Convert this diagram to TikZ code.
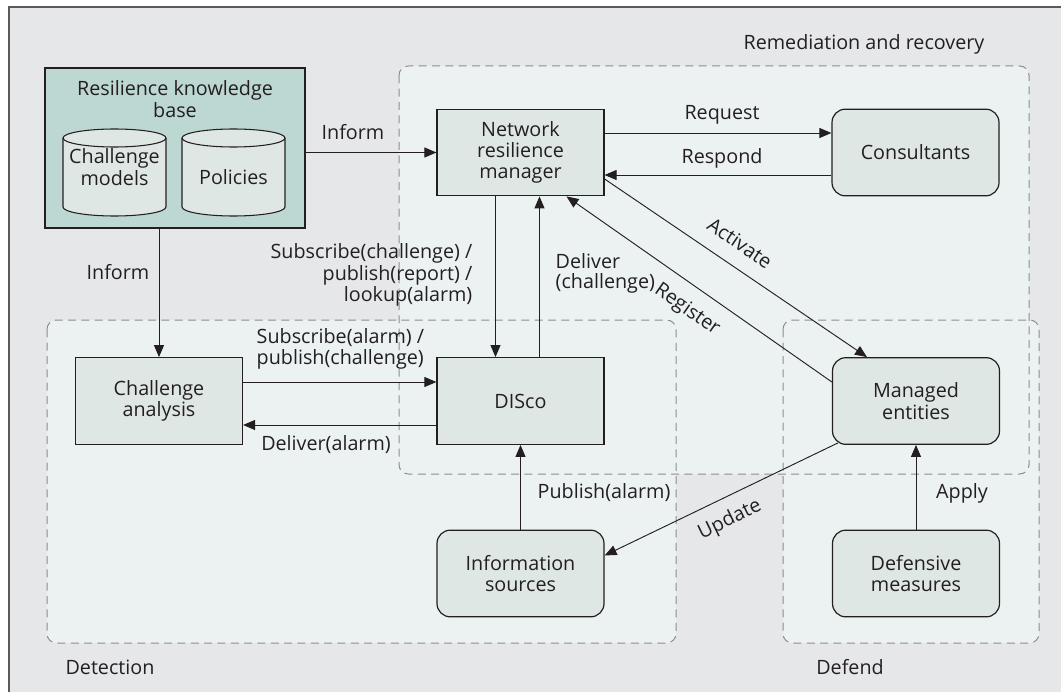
\documentclass[tikz,border=0pt]{standalone}
\usepackage{fontspec}
\setmainfont{Open Sans}
\usetikzlibrary{arrows.meta,calc}
\definecolor{ink}{HTML}{231F20}
\definecolor{bggray}{HTML}{E6E7E9}
\definecolor{framegray}{HTML}{5A5A5C}
\definecolor{zonefill}{HTML}{ECF2F2}
\definecolor{dashgray}{HTML}{8C8C8E}
\definecolor{boxfill}{HTML}{DFE7E4}
\definecolor{kbfill}{HTML}{BDD7D3}
\tikzset{
  blockbox/.style={draw=ink, fill=boxfill, line width=0.9pt, minimum width=125.25pt,
    minimum height=65pt, align=center, inner sep=0pt},
  roundbox/.style={blockbox, rounded corners=10pt},
  zoneline/.style={draw=dashgray, line width=0.75pt, dash pattern=on 6pt off 4pt, rounded corners=7pt},
  arr/.style={draw=ink, line width=0.7pt, -{Triangle[length=9pt,width=7.5pt]}},
}
\begin{document}
\begin{tikzpicture}[x=0.75pt,y=0.75pt,yscale=-1,xscale=1,
    every node/.style={font=\fontsize{14.8}{16}\selectfont, text=ink}]
    \useasboundingbox (0,0) rectangle (1061,692);
    % frame
    \fill[bggray] (9,7) rectangle (1070,700);
    \draw[framegray, line width=0.9pt] (9,700) -- (9,7) -- (1070,7);
    % zones
    \fill[zonefill, rounded corners=7pt] (399,66) rectangle (1029,474);
    \fill[zonefill, rounded corners=7pt] (47,320) rectangle (676,643);
    \fill[zonefill, rounded corners=7pt] (783,320) rectangle (1039,643);
    \draw[zoneline] (399,66) rectangle (1029,474);
    \draw[zoneline] (47,320) rectangle (676,643);
    \draw[zoneline] (783,320) rectangle (1039,643);
    \node (tRemed) at (864,44) {Remediation and recovery};
    \node (tDetect) at (110,667) {Detection};
    \node (tDefend) at (850,667) {Defend};
    % knowledge base
    \node[draw=ink, fill=kbfill, line width=0.9pt, minimum width=195pt, minimum height=120pt, inner sep=0pt] (kb) at (175,148) {};
    \node[align=center] (tKb) at (175,99) {Resilience knowledge\\base};
    \filldraw[draw=ink, fill=boxfill, line width=0.8pt] (63,138) -- (63,207) arc(180:0:51.5 and 9) -- (166,138) arc(0:-180:51.5 and 9) -- cycle;
    \draw[ink, line width=0.8pt] (63,138) arc(180:0:51.5 and 9);
    \filldraw[draw=ink, fill=boxfill, line width=0.8pt] (182,138) -- (182,207) arc(180:0:51.5 and 9) -- (285,138) arc(0:-180:51.5 and 9) -- cycle;
    \draw[ink, line width=0.8pt] (182,138) arc(180:0:51.5 and 9);
    \node[align=center] (tModels) at (114.5,167) {Challenge\\models};
    \node (tPolicies) at (233.5,177) {Policies};
    % boxes
    \node[blockbox] (nrm) at (520.5,152.5) {Network\\resilience\\manager};
    \node[roundbox] (cons) at (915.5,152.5) {Consultants};
    \node[blockbox] (ca) at (159,401) {Challenge\\analysis};
    \node[blockbox] (disco) at (520.5,401) {DISco};
    \node[roundbox] (info) at (520.5,573.5) {Information\\sources};
    \node[roundbox] (mgd) at (916,401) {Managed\\entities};
    \node[roundbox] (defm) at (916,573.5) {Defensive\\measures};
    % connectors
    \draw[arr] (kb.east |- nrm.west) -- (nrm.west);
    \draw[arr] (kb.south -| ca.north) -- (ca.north);
    \draw[arr] ($(nrm.east)+(0,-19.5)$) -- ($(cons.west)+(0,-19.5)$);
    \draw[arr] ($(cons.west)+(0,22.5)$) -- ($(nrm.east)+(0,22.5)$);
    \draw[arr] ($(nrm.south)+(-25,0)$) -- ($(disco.north)+(-25,0)$);
    \draw[arr] ($(disco.north)+(19,0)$) -- ($(nrm.south)+(19,0)$);
    \draw[arr] ($(ca.east)+(0,-19)$) -- ($(disco.west)+(0,-19)$);
    \draw[arr] ($(disco.west)+(0,24)$) -- ($(ca.east)+(0,24)$);
    \draw[arr] (info.north) -- (disco.south);
    \draw[arr] (defm.north) -- (mgd.south);
    \draw[arr] ($(nrm.east)+(0,26.5)$) -- ($(mgd.north)+(-49,0)$);
    \draw[arr] ($(mgd.west)+(0,-19)$) -- ($(nrm.south)+(46,0)$);
    \draw[arr] ($(mgd.south west)+(6,-2)$) -- ($(info.east)+(0,-18)$);
    % labels
    \node (tInform) at (353,132) {Inform};
    \node (tInform2) at (118,272) {Inform};
    \node (tRequest) at (722,115) {Request};
    \node (tRespond) at (722,158) {Respond};
    \node[anchor=east, align=right] (tSub) at (477,275) {Subscribe(challenge) /\\publish(report) /\\lookup(alarm)};
    \node[anchor=west, align=left, font=\fontsize{14.8}{15}\selectfont] (tDel) at (551,273) {Deliver\\(challenge)};
    \node[anchor=west, align=left, font=\fontsize{14.8}{15.5}\selectfont] (tSubAl) at (252,349) {Subscribe(alarm) /\\publish(challenge)};
    \node (tDelAl) at (326,445) {Deliver(alarm)};
    \node[anchor=west] (tPub) at (533,493) {Publish(alarm)};
    \node (tApply) at (962,493) {Apply};
    \node[rotate=-34] (tAct) at (740,243) {Activate};
    \node[rotate=-35] (tReg) at (687,310) {Register};
    \node[rotate=26] (tUpd) at (730,520) {Update};
\end{tikzpicture}
\end{document}
